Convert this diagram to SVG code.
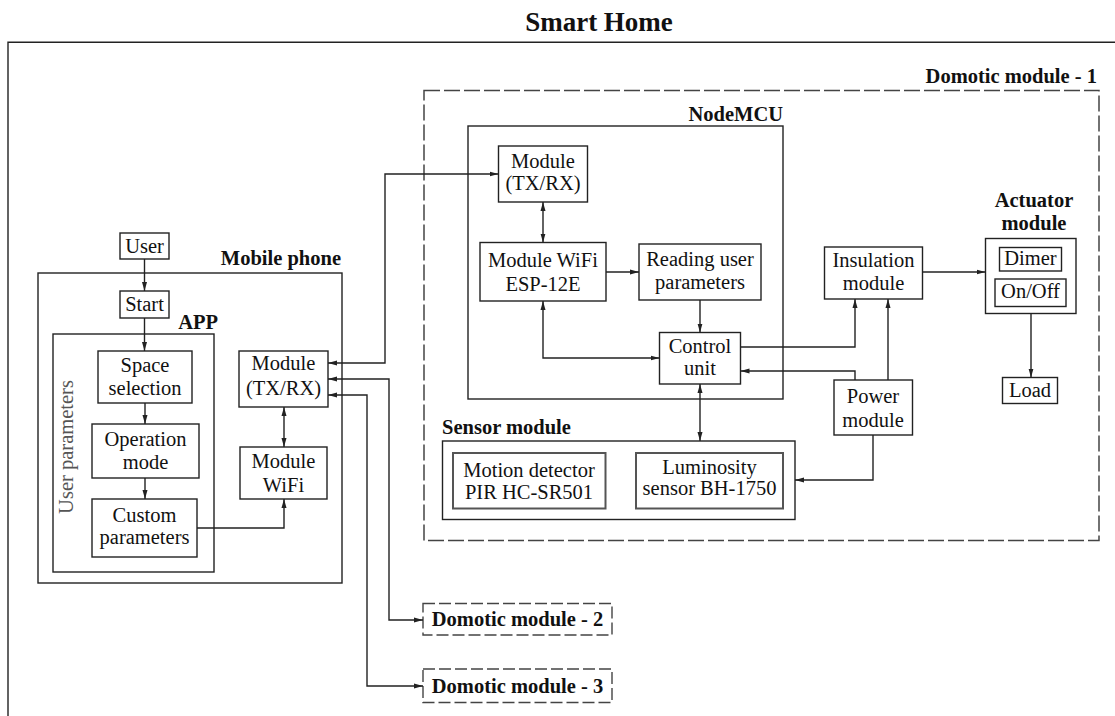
<svg xmlns="http://www.w3.org/2000/svg" width="1115" height="716" viewBox="0 0 1115 716">
<style>
  .bg { fill: #ffffff; }
  .box { fill: #ffffff; stroke: #222; stroke-width: 1.4; }
  .frame { fill: none; stroke: #222; stroke-width: 1.4; }
  .dash1 { fill: none; stroke: #444; stroke-width: 1.5; stroke-dasharray: 16 4; }
  .dash2 { fill: #ffffff; stroke: #444; stroke-width: 1.4; stroke-dasharray: 12 4; }
  .inner { fill: #ffffff; stroke: #555; stroke-width: 2; }
  .t { font-family: "Liberation Serif", "Times New Roman", serif; font-size: 20.5px; fill: #111; text-anchor: middle; }
  .b { font-family: "Liberation Serif", "Times New Roman", serif; font-size: 20.5px; font-weight: bold; fill: #111; }
  .title { font-family: "Liberation Serif", "Times New Roman", serif; font-size: 27px; font-weight: bold; fill: #111; text-anchor: middle; }
  .gray { fill: #555; }
  .c { fill: none; stroke: #222; stroke-width: 1.4; }
</style>
<defs>
  <marker id="ah" markerUnits="userSpaceOnUse" markerWidth="10" markerHeight="6" refX="9" refY="3" orient="auto-start-reverse">
    <path d="M0,0.5 L9,3 L0,5.5 z" fill="#222"/>
  </marker>
</defs>
<rect class="bg" x="0" y="0" width="1115" height="716"/>

<text class="title" x="599" y="31">Smart Home</text>
<path class="frame" d="M8,716 V42.3 H1115"/>

<g id="domotic1">
  <rect class="dash1" x="424" y="90.5" width="675" height="450"/>
  <text class="b" x="1097" y="83" text-anchor="end">Domotic module - 1</text>
</g>

<g id="mobile-phone">
  <rect class="frame" x="38" y="273" width="304" height="310"/>
  <text class="b" x="341" y="265" text-anchor="end">Mobile phone</text>
</g>

<g id="app">
  <rect class="frame" x="53" y="334" width="161" height="238"/>
  <text class="b" x="218" y="329" text-anchor="end">APP</text>
  <text class="t gray" transform="translate(72.5,447) rotate(-90)">User parameters</text>
</g>

<g id="user">
  <rect class="box" x="120" y="233" width="49" height="26"/>
  <text class="t" x="144.5" y="253">User</text>
</g>
<g id="start">
  <rect class="box" x="120" y="291" width="49" height="27"/>
  <text class="t" x="144.5" y="311">Start</text>
</g>
<g id="space-selection">
  <rect class="box" x="98" y="351" width="94" height="52"/>
  <text class="t" x="145" y="371.5">Space</text>
  <text class="t" x="145" y="395">selection</text>
</g>
<g id="operation-mode">
  <rect class="box" x="92" y="424" width="107" height="54"/>
  <text class="t" x="145.5" y="446">Operation</text>
  <text class="t" x="145.5" y="468.5">mode</text>
</g>
<g id="custom-parameters">
  <rect class="box" x="92" y="499" width="105" height="58"/>
  <text class="t" x="144.5" y="521.5">Custom</text>
  <text class="t" x="144.5" y="543.5">parameters</text>
</g>
<g id="phone-txrx">
  <rect class="box" x="239" y="351" width="89" height="56"/>
  <text class="t" x="283.5" y="370">Module</text>
  <text class="t" x="283.5" y="395">(TX/RX)</text>
</g>
<g id="phone-wifi">
  <rect class="box" x="240" y="447" width="87" height="52"/>
  <text class="t" x="283.5" y="467.5">Module</text>
  <text class="t" x="283.5" y="491.5">WiFi</text>
</g>

<g id="nodemcu">
  <rect class="frame" x="468" y="126" width="315" height="273"/>
  <text class="b" x="783" y="121" text-anchor="end">NodeMCU</text>
</g>
<g id="node-txrx">
  <rect class="box" x="498.5" y="146" width="89" height="56"/>
  <text class="t" x="543" y="167.5">Module</text>
  <text class="t" x="543" y="190">(TX/RX)</text>
</g>
<g id="node-wifi">
  <rect class="box" x="480" y="242.5" width="126" height="58.5"/>
  <text class="t" x="543" y="266.5">Module WiFi</text>
  <text class="t" x="543" y="290.5">ESP-12E</text>
</g>
<g id="reading-params">
  <rect class="box" x="639" y="244" width="122" height="56"/>
  <text class="t" x="700" y="265.5">Reading user</text>
  <text class="t" x="700" y="289">parameters</text>
</g>
<g id="control-unit">
  <rect class="box" x="659.5" y="332.5" width="81" height="51.5"/>
  <text class="t" x="700" y="352.5">Control</text>
  <text class="t" x="700" y="375">unit</text>
</g>

<g id="sensor-module">
  <rect class="frame" x="442.5" y="441" width="352.5" height="78.5"/>
  <text class="b" x="442" y="434">Sensor module</text>
</g>
<g id="motion-detector">
  <rect class="inner" x="453" y="453" width="152.5" height="55.5"/>
  <text class="t" x="529" y="476.5">Motion detector</text>
  <text class="t" x="529" y="498.5">PIR HC-SR501</text>
</g>
<g id="luminosity">
  <rect class="inner" x="636" y="453" width="147" height="55.5"/>
  <text class="t" x="709.5" y="473.5">Luminosity</text>
  <text class="t" x="709.5" y="495">sensor BH-1750</text>
</g>

<g id="insulation">
  <rect class="box" x="824.5" y="247" width="98" height="52"/>
  <text class="t" x="873.5" y="267">Insulation</text>
  <text class="t" x="873.5" y="290">module</text>
</g>
<g id="power">
  <rect class="box" x="834" y="380" width="78.5" height="55"/>
  <text class="t" x="873" y="403">Power</text>
  <text class="t" x="873" y="426.5">module</text>
</g>
<g id="actuator">
  <text class="b" x="1034" y="207" text-anchor="middle">Actuator</text>
  <text class="b" x="1034" y="229.5" text-anchor="middle">module</text>
  <rect class="box" x="985.5" y="238.5" width="90.5" height="75"/>
  <rect class="box" x="999.5" y="247.5" width="62" height="23.5"/>
  <text class="t" x="1030.5" y="264.5">Dimer</text>
  <rect class="box" x="995" y="279" width="71" height="27.5"/>
  <text class="t" x="1030.5" y="298">On/Off</text>
</g>
<g id="load">
  <rect class="box" x="1002.5" y="377.5" width="55" height="26"/>
  <text class="t" x="1030" y="397">Load</text>
</g>

<g id="domotic2">
  <rect class="dash2" x="423" y="603.5" width="189" height="31.5"/>
  <text class="b" x="517.5" y="626" text-anchor="middle">Domotic module - 2</text>
</g>
<g id="domotic3">
  <rect class="dash2" x="423" y="669" width="189" height="33.5"/>
  <text class="b" x="517.5" y="692.5" text-anchor="middle">Domotic module - 3</text>
</g>

<g id="connectors">
  <path class="c" d="M144.5,259 V291" marker-end="url(#ah)"/>
  <path class="c" d="M144.5,318 V351" marker-end="url(#ah)"/>
  <path class="c" d="M145,403 V424" marker-end="url(#ah)"/>
  <path class="c" d="M145,478 V499" marker-end="url(#ah)"/>
  <path class="c" d="M197,528 H284 V499" marker-end="url(#ah)"/>
  <path class="c" d="M284,407 V447" marker-start="url(#ah)" marker-end="url(#ah)"/>
  <path class="c" d="M328,363 H385 V174 H498.5" marker-start="url(#ah)" marker-end="url(#ah)"/>
  <path class="c" d="M328,379 H389 V620 H423" marker-start="url(#ah)" marker-end="url(#ah)"/>
  <path class="c" d="M328,395 H367 V686 H423" marker-start="url(#ah)" marker-end="url(#ah)"/>
  <path class="c" d="M543,202 V242.5" marker-start="url(#ah)" marker-end="url(#ah)"/>
  <path class="c" d="M606,272 H639" marker-end="url(#ah)"/>
  <path class="c" d="M700,300 V332.5" marker-end="url(#ah)"/>
  <path class="c" d="M543,301 V358 H659.5" marker-start="url(#ah)" marker-end="url(#ah)"/>
  <path class="c" d="M740.5,347 H855 V299" marker-end="url(#ah)"/>
  <path class="c" d="M855,380 V371 H740.5" marker-end="url(#ah)"/>
  <path class="c" d="M888,380 V299" marker-end="url(#ah)"/>
  <path class="c" d="M922.5,272 H985.5" marker-end="url(#ah)"/>
  <path class="c" d="M1031,313.5 V377.5" marker-end="url(#ah)"/>
  <path class="c" d="M700,384 V441" marker-start="url(#ah)" marker-end="url(#ah)"/>
  <path class="c" d="M873,435 V480 H795" marker-end="url(#ah)"/>
</g>
</svg>
